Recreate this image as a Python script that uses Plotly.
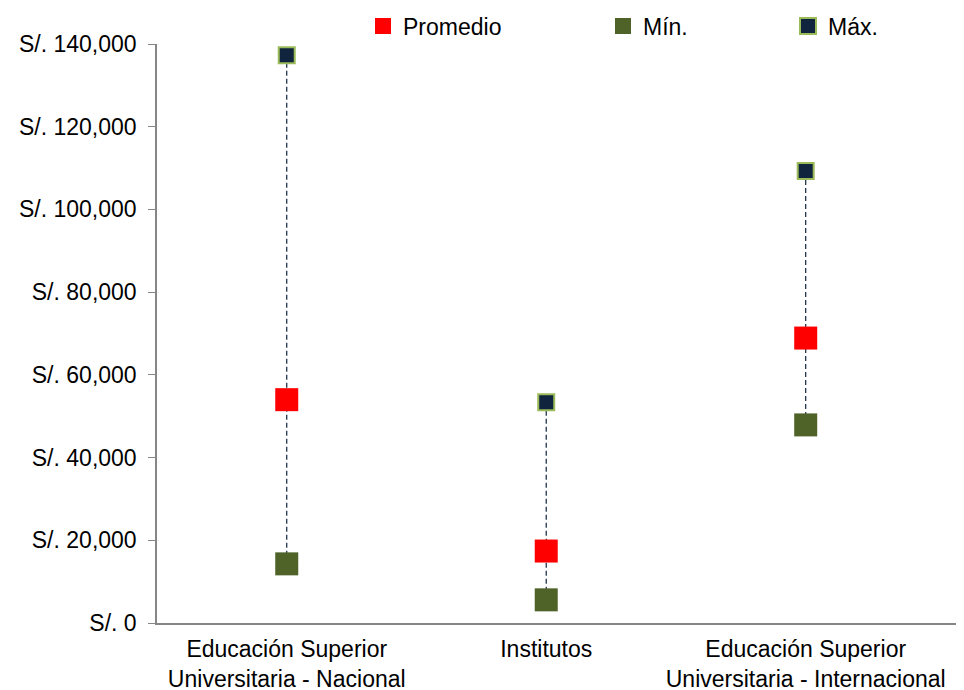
import plotly.graph_objects as go

categories = ["Educación Superior<br>Universitaria - Nacional", "Institutos",
              "Educación Superior<br>Universitaria - Internacional"]
promedio = [54000, 17400, 68900]
minimo = [14300, 5600, 47900]
maximo = [137300, 53400, 109300]
y_ticks = [0, 20000, 40000, 60000, 80000, 100000, 120000, 140000]
y_ticktext = ["S/. " + f"{v:,}" for v in y_ticks]

FONT = "Liberation Sans, Arial, sans-serif"
FS = 23
# page body has an 8px default margin: figure is sized to fill the rest of the window
W, H, OFF = 956, 682, 8
fig = go.Figure()

for c, lo, hi in zip(categories, minimo, maximo):
    fig.add_trace(go.Scatter(x=[c, c], y=[lo, hi], mode="lines",
                             line=dict(color="#0F243E", width=1.2, dash="5px,3px"),
                             showlegend=False, hoverinfo="skip"))

fig.add_trace(go.Scatter(x=categories, y=promedio, mode="markers", name="Promedio",
                         marker=dict(symbol="square", size=23, color="#FF0000"),
                         legend="legend"))
fig.add_trace(go.Scatter(x=categories, y=minimo, mode="markers", name="Mín.",
                         marker=dict(symbol="square", size=23, color="#4F6228"),
                         legend="legend2"))
fig.add_trace(go.Scatter(x=categories, y=maximo, mode="markers", name="Máx.",
                         marker=dict(symbol="square", size=16, color="#10243E",
                                     line=dict(color="#9BBB59", width=2)),
                         legend="legend3"))

leg_common = dict(orientation="h", yanchor="middle", y=1 - (26 - OFF) / H, yref="container",
                  xanchor="left", xref="container",
                  font=dict(family=FONT, size=FS, color="#000000"),
                  bgcolor="rgba(0,0,0,0)", itemsizing="trace")
fig.update_layout(
    width=W, height=H,
    margin=dict(l=157 - OFF, r=0, t=44 - OFF, b=67, autoexpand=False),
    paper_bgcolor="white", plot_bgcolor="white",
    font=dict(family=FONT, size=FS, color="#000000"),
    legend=dict(**leg_common, x=(363 - OFF) / W),
    legend2=dict(**leg_common, x=(603 - OFF) / W),
    legend3=dict(**leg_common, x=(788 - OFF) / W),
    xaxis=dict(range=[-0.5, 2.61], showline=True, linecolor="#868686", linewidth=1.5,
               ticks="", showgrid=False, zeroline=False, automargin=False,
               ticklabelstandoff=5,
               tickfont=dict(family=FONT, size=FS, color="#000000")),
    yaxis=dict(range=[0, 140000], tickmode="array", tickvals=y_ticks, ticktext=y_ticktext,
               showline=True, linecolor="#868686", linewidth=1.5, ticks="outside",
               ticklen=7, tickcolor="#868686", showgrid=False, zeroline=False,
               automargin=False, ticklabelstandoff=7,
               tickfont=dict(family=FONT, size=FS, color="#000000")),
)

fig.write_html("out.html")
